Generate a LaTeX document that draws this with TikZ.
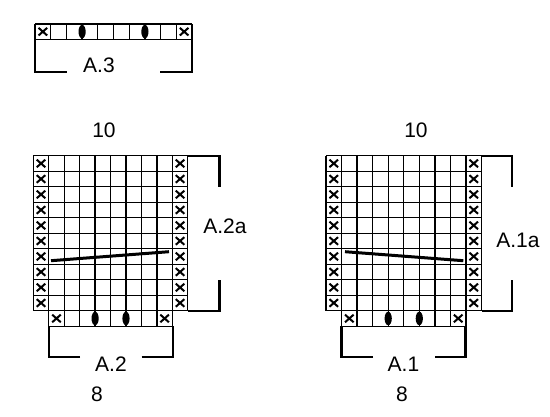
\documentclass[tikz,border=0pt]{standalone}
\usepackage{fontspec}
\setmainfont{Liberation Sans}
\tikzset{
  gridline/.style={line width=1.35pt, black},
  bracket/.style={line width=2.4pt, black},
  diag/.style={line width=3pt, black},
  lbl/.style={inner sep=0pt, font=\fontsize{21}{25}\selectfont},
  xmark/.pic={\draw[line width=2pt] (-4.3pt,-3.8pt)--(4.3pt,3.8pt) (-4.3pt,3.8pt)--(4.3pt,-3.8pt);},
  dot/.style={black}
}
\newcommand\kdot{}
\renewcommand\kdot[2]{\fill (#1,#2) ellipse [x radius=3.6pt, y radius=6.8pt];}
\begin{document}
\begin{tikzpicture}[x=1pt,y=-1pt]
\useasboundingbox (0,0) rectangle (550,416);

% ---------- A.3 ----------
\begin{scope}[shift={(35,24)}, x=15.7pt, y=-15.3pt]
  \foreach \i in {0,...,10} \draw[gridline] (\i,0) -- (\i,1);
  \draw[gridline] (0,0) -- (10,0) (0,1) -- (10,1);
  \pic at (0.5,0.5) {xmark};
  \pic at (9.5,0.5) {xmark};
  \kdot{3}{0.5}
  \kdot{7}{0.5}
\end{scope}
\draw[bracket] (66.7,71.7) -| (35,39.3);
\draw[bracket] (160,71.7) -| (192,39.3);
\node[lbl] (a3) at (99,65) {A.3};

% ---------- left chart (A.2a / A.2) ----------
\begin{scope}[shift={(33.3,155.7)}, x=15.45pt, y=-15.5pt]
  \foreach \i in {0,...,10} \draw[gridline] (\i,0) -- (\i,10);
  \foreach \j in {0,...,10} \draw[gridline] (0,\j) -- (10,\j);
  \foreach \i in {1,...,9} \draw[gridline] (\i,10) -- (\i,11);
  \draw[gridline] (1,11) -- (9,11);
  \foreach \j in {0,...,9} {
    \pic at (0.5,\j+0.5) {xmark};
    \pic at (9.5,\j+0.5) {xmark};
  }
  \pic at (1.5,10.5) {xmark};
  \pic at (8.5,10.5) {xmark};
  \kdot{4}{10.5}
  \kdot{6}{10.5}
\end{scope}
\draw[diag] (51,260.7) -- (169,251.7);
\draw[bracket] (187.7,155.7) -| (219.3,186.7);
\draw[bracket] (187.7,310.7) -| (219.3,280);
\draw[bracket] (80,356.7) -| (49,326.2);
\draw[bracket] (141.7,356.7) -| (172.7,326.2);
\node[lbl] (t10a) at (104,130) {10};
\node[lbl] (a2a) at (225,226) {A.2a};
\node[lbl] (a2) at (111,364) {A.2};
\node[lbl] (t8a) at (97,394) {8};

% ---------- right chart (A.1a / A.1) ----------
\begin{scope}[shift={(326,155.7)}, x=15.55pt, y=-15.5pt]
  \foreach \i in {0,...,10} \draw[gridline] (\i,0) -- (\i,10);
  \foreach \j in {0,...,10} \draw[gridline] (0,\j) -- (10,\j);
  \foreach \i in {1,...,9} \draw[gridline] (\i,10) -- (\i,11);
  \draw[gridline] (1,11) -- (9,11);
  \foreach \j in {0,...,9} {
    \pic at (0.5,\j+0.5) {xmark};
    \pic at (9.5,\j+0.5) {xmark};
  }
  \pic at (1.5,10.5) {xmark};
  \pic at (8.5,10.5) {xmark};
  \kdot{4}{10.5}
  \kdot{6}{10.5}
\end{scope}
\draw[diag] (345,251.7) -- (463.3,260.7);
\draw[bracket] (481.5,155.7) -| (511.7,186.7);
\draw[bracket] (481.5,310.7) -| (511.7,280);
\draw[bracket] (373,356.7) -| (341.5,326.2);
\draw[bracket] (435,356.7) -| (465.5,326.2);
\node[lbl] (t10b) at (416,130) {10};
\node[lbl] (a1a) at (518,240) {A.1a};
\node[lbl] (a1) at (403.5,364) {A.1};
\node[lbl] (t8b) at (402,394) {8};
\end{tikzpicture}
\end{document}
